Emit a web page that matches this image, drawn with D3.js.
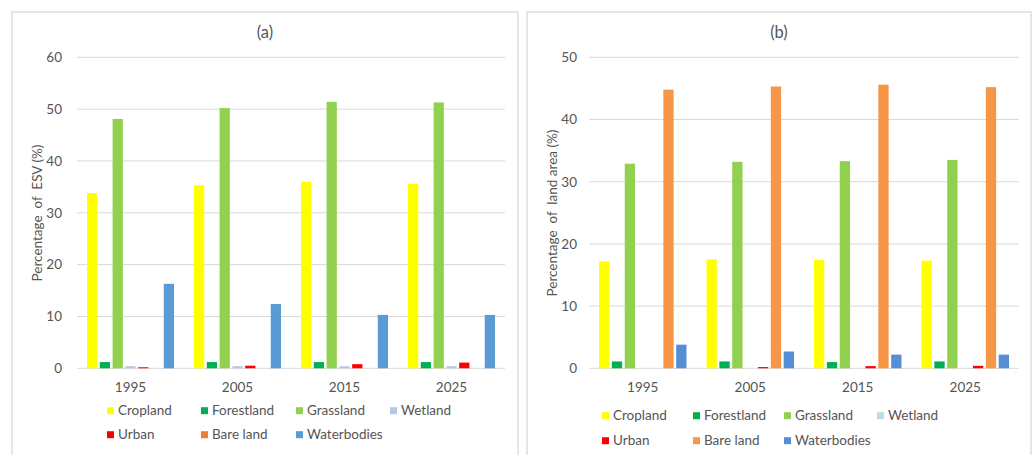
<!DOCTYPE html>
<html>
<head>
<meta charset="utf-8">
<script src="https://cdn.jsdelivr.net/npm/d3@7"></script>
<style>
  html, body { margin: 0; padding: 0; background: #ffffff; }
  svg { display: block; font-family: Lato, "Open Sans", sans-serif; }
</style>
</head>
<body>
<svg id="chart" width="1034" height="455"></svg>
<script>
// Census years on the category axis
const years = ["1995", "2005", "2015", "2025"];
const landTypes = ["Cropland", "Forestland", "Grassland", "Wetland", "Urban", "Bare land", "Waterbodies"];

// (a) share of ecosystem service value by land type (%)
const esvCropland = [33.8, 35.3, 36.0, 35.6];
const esvForestland = [1.2, 1.2, 1.2, 1.2];
const esvGrassland = [48.1, 50.2, 51.4, 51.3];
const esvWetland = [0.4, 0.4, 0.4, 0.4];
const esvUrban = [0.2, 0.5, 0.8, 1.1];
const esvBareLand = [0, 0, 0, 0];
const esvWaterbodies = [16.3, 12.4, 10.3, 10.3];
const esvTicks = [0, 10, 20, 30, 40, 50, 60];

// (b) share of total land area by land type (%)
const areaCropland = [17.2, 17.5, 17.4, 17.3];
const areaForestland = [1.1, 1.1, 1.0, 1.1];
const areaGrassland = [32.9, 33.2, 33.3, 33.5];
const areaWetland = [0, 0, 0, 0];
const areaUrban = [0, 0.2, 0.35, 0.4];
const areaBareLand = [44.8, 45.3, 45.6, 45.2];
const areaWaterbodies = [3.8, 2.7, 2.2, 2.2];
const areaTicks = [0, 10, 20, 30, 40, 50];

const esvColors = ["#FFFF00", "#00B050", "#92D050", "#B4C7E7", "#FF0000", "#ED7D31", "#5B9BD5"];
const areaColors = ["#FFFF00", "#00B050", "#92D050", "#B7DEE8", "#FF0000", "#F79646", "#558ED5"];

const svg = d3.select("#chart");
const textColor = "#555555";
const gridColor = "#D9D9D9";

function drawPanel(opt) {
  const g = svg.append("g");

  // chart-area frame
  g.append("rect")
    .attr("x", opt.frame[0]).attr("y", opt.frame[1])
    .attr("width", opt.frame[2] - opt.frame[0]).attr("height", 480)
    .attr("fill", "#fff").attr("stroke", "#D9D9D9").attr("stroke-width", 1.3);

  const x0 = d3.scaleBand().domain(years).range([opt.left, opt.right]);
  const x1 = d3.scaleBand().domain(landTypes)
    .range([10, x0.bandwidth() - 10]).paddingInner(0.2);
  const y = d3.scaleLinear().domain([0, d3.max(opt.ticks)]).range([opt.bottom, opt.top]);

  // horizontal gridlines
  g.append("g").selectAll("line").data(opt.ticks).join("line")
    .attr("x1", opt.left).attr("x2", opt.right)
    .attr("y1", d => y(d)).attr("y2", d => y(d))
    .attr("stroke", gridColor).attr("stroke-width", 1);

  // value axis labels
  const yAxis = d3.axisLeft(y).tickValues(opt.ticks).tickSize(0).tickPadding(0);
  const ya = g.append("g").attr("transform", `translate(${opt.tickRight},0)`).call(yAxis);
  ya.select(".domain").remove();
  ya.selectAll("text").attr("fill", textColor).style("font-size", "13.5px")
    .style("font-family", "Lato, 'Open Sans', sans-serif");

  // category axis labels
  const xAxis = d3.axisBottom(x0).tickSize(0).tickPadding(0);
  const xa = g.append("g").attr("transform", `translate(0,${opt.catY})`).call(xAxis);
  xa.select(".domain").remove();
  xa.selectAll("text").attr("fill", textColor).style("font-size", "13.5px")
    .attr("dy", "0.35em").attr("y", 0)
    .style("font-family", "Lato, 'Open Sans', sans-serif");

  // grouped bars
  const groups = g.append("g").selectAll("g").data(years).join("g")
    .attr("transform", d => `translate(${x0(d)},0)`);
  groups.selectAll("rect")
    .data((yr, i) => landTypes.map((t, k) => ({ type: t, k, value: opt.series[k][i] })))
    .join("rect")
    .filter(d => d.value > 0)
    .attr("x", d => x1(d.type))
    .attr("width", x1.bandwidth())
    .attr("y", d => y(d.value))
    .attr("height", d => y(0) - y(d.value))
    .attr("fill", d => opt.colors[d.k]);

  // panel title
  g.append("text").attr("x", opt.titleX).attr("y", 32).attr("dy", "0.35em")
    .attr("text-anchor", "middle").attr("fill", textColor)
    .style("font-size", "16.5px").text(opt.title);

  // value axis title
  g.append("text")
    .attr("transform", `translate(${opt.yLabelX},213) rotate(-90)`)
    .attr("text-anchor", "middle").attr("dy", "0.35em")
    .attr("fill", textColor).style("font-size", "13.5px")
    .style("white-space", "pre").attr("xml:space", "preserve")
    .text(opt.yLabel);

  // legend, two rows of swatches
  const leg = g.append("g");
  landTypes.forEach((t, k) => {
    const row = Math.floor(k / 4), col = k % 4;
    const lx = opt.legX[col], ly = opt.legY[row];
    leg.append("rect").attr("x", lx).attr("y", ly - 3.5).attr("width", 7).attr("height", 7)
      .attr("fill", opt.colors[k]);
    leg.append("text").attr("x", lx + 11).attr("y", ly).attr("dy", "0.35em")
      .attr("fill", textColor).style("font-size", "13.5px").text(t);
  });
}

drawPanel({
  frame: [12, 12, 518],
  left: 77, right: 505, top: 57.3, bottom: 368.3,
  ticks: esvTicks, tickRight: 62, catY: 387,
  series: [esvCropland, esvForestland, esvGrassland, esvWetland, esvUrban, esvBareLand, esvWaterbodies],
  colors: esvColors,
  title: "(a)", titleX: 265,
  yLabel: "Percentage  of  ESV (%)", yLabelX: 37,
  legX: [107, 201, 296, 390], legY: [410.7, 434.7]
});

drawPanel({
  frame: [527, 12, 1031],
  left: 589, right: 1019, top: 57.3, bottom: 368.3,
  ticks: areaTicks, tickRight: 577, catY: 387,
  series: [areaCropland, areaForestland, areaGrassland, areaWetland, areaUrban, areaBareLand, areaWaterbodies],
  colors: areaColors,
  title: "(b)", titleX: 779,
  yLabel: "Percentage  of  land area (%)", yLabelX: 552,
  legX: [602, 693, 784, 877], legY: [415.7, 440.7]
});
</script>
</body>
</html>
